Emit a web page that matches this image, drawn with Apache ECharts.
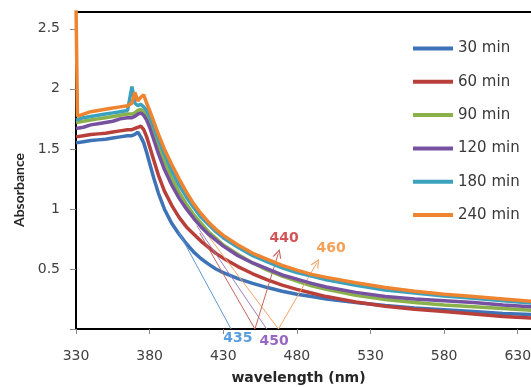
<!DOCTYPE html>
<html><head><meta charset="utf-8">
<script src="https://cdn.jsdelivr.net/npm/echarts@6/dist/echarts.min.js"></script>
<style>html,body{margin:0;padding:0;background:#fff}#c{width:531px;height:387px}</style>
</head><body><div id="c"></div>
<script>
// ---- data ----
const wavelengths = [330,331,335,340,345,350,355,360,365,368,370,372,374,376,378,380,383,386,390,395,400,405,410,415,420,425,430,440,450,460,470,480,490,500,520,540,560,580,600,620,640];
const abs30  = [1.55,1.55,1.56,1.57,1.575,1.58,1.59,1.60,1.61,1.61,1.62,1.64,1.60,1.55,1.47,1.38,1.25,1.13,1.00,0.88,0.79,0.71,0.64,0.585,0.54,0.50,0.47,0.42,0.38,0.345,0.315,0.29,0.27,0.25,0.22,0.195,0.175,0.16,0.145,0.13,0.12];
const abs60  = [1.60,1.60,1.61,1.62,1.625,1.63,1.64,1.65,1.66,1.66,1.67,1.68,1.69,1.66,1.60,1.52,1.40,1.28,1.15,1.03,0.93,0.85,0.79,0.73,0.68,0.63,0.59,0.52,0.46,0.41,0.365,0.33,0.30,0.27,0.225,0.19,0.165,0.145,0.125,0.105,0.09];
const abs90  = [1.72,1.72,1.73,1.74,1.75,1.76,1.77,1.78,1.79,1.79,1.80,1.82,1.83,1.81,1.78,1.73,1.63,1.53,1.40,1.26,1.14,1.04,0.95,0.88,0.81,0.755,0.70,0.62,0.55,0.49,0.44,0.40,0.36,0.33,0.28,0.245,0.22,0.20,0.185,0.17,0.155];
const abs120 = [1.67,1.67,1.68,1.70,1.71,1.72,1.73,1.75,1.76,1.76,1.77,1.79,1.80,1.78,1.74,1.68,1.57,1.46,1.33,1.20,1.09,1.00,0.92,0.85,0.79,0.74,0.69,0.61,0.55,0.50,0.45,0.415,0.38,0.35,0.305,0.27,0.25,0.235,0.22,0.20,0.185];
const abs180 = [1.74,1.74,1.76,1.77,1.78,1.79,1.80,1.81,1.82,2.02,1.88,1.86,1.87,1.85,1.82,1.77,1.68,1.58,1.46,1.32,1.20,1.10,1.01,0.93,0.87,0.81,0.76,0.68,0.61,0.56,0.51,0.47,0.44,0.41,0.365,0.325,0.30,0.275,0.255,0.235,0.215];
const abs240 = [2.70,1.77,1.79,1.81,1.82,1.83,1.84,1.85,1.86,1.88,1.97,1.90,1.93,1.95,1.88,1.82,1.72,1.62,1.50,1.37,1.25,1.14,1.04,0.96,0.89,0.83,0.78,0.70,0.63,0.58,0.53,0.49,0.455,0.43,0.385,0.345,0.315,0.29,0.27,0.25,0.23];
const seriesNames = ['30 min','60 min','90 min','120 min','180 min','240 min'];
const xTickValues = [330,380,430,480,530,580,630];
const yTickValues = [0,0.5,1,1.5,2,2.5];
// annotation lines in data units: [wavelength1, abs1, wavelength2, abs2]
const tangentLines = [[400,0.80,435.3,0],[414,0.80,451.5,0],[412,0.86,459.5,0],[414,0.87,467.5,0]];
const arrowLines = [[451.5,0,467.4,0.63],[467.5,0,493.5,0.55]];
const annotationTexts = ['435','440','450','460'];
const annotationPoints = [[440,-0.075],[471.3,0.758],[464.5,-0.10],[503.2,0.675]];

// ---- styles ----
const colors = ['#3E73B7','#B93F3B','#8BB14B','#7551A0','#3BA1BD','#EE842F'];
const tangentColors = ['#5F97D4','#C46461','#9B80C2','#F5A466'];
const arrowColors = ['#C46461','#F5A466'];
const labelColors = ['#2F86D6','#C42A2E','#7E40B4','#F08A2E'];
const FONT = 'DejaVu Sans';
const chevron = 'path://M0,10 L5,0 L10,10 L8.6,10 L5,2.8 L1.4,10 Z';

const allAbs = [abs30, abs60, abs90, abs120, abs180, abs240];
const series = allAbs.map((arr, i) => ({
  name: seriesNames[i], type: 'line', showSymbol: false, symbol: 'none',
  data: wavelengths.map((w, j) => [w, arr[j]]),
  lineStyle: { width: 3.5, color: colors[i] }, itemStyle: { color: colors[i] },
  z: 2 + i
}));
const mlData = [];
tangentLines.forEach((t, i) => mlData.push([
  { coord: [t[0], t[1]], symbol: 'none', lineStyle: { color: tangentColors[i], width: 1, type: 'solid' } },
  { coord: [t[2], t[3]], symbol: 'none' }
]));
arrowLines.forEach((t, i) => mlData.push([
  { coord: [t[0], t[1]], symbol: 'none', lineStyle: { color: arrowColors[i], width: 1, type: 'solid' } },
  { coord: [t[2], t[3]], symbol: chevron, symbolSize: [9, 9] }
]));
series.push({
  name: 'annot', type: 'scatter', clip: false, symbolSize: 0, z: 20, silent: true,
  data: annotationTexts.map((s, i) => ({ name: s, value: annotationPoints[i],
    label: { show: true, position: 'inside', formatter: '{b}', color: labelColors[i],
             fontFamily: FONT, fontWeight: 'bold', fontSize: 14 } })),
  markLine: { silent: true, animation: false, label: { show: false }, symbol: ['none','none'], data: mlData }
});

const chart = echarts.init(document.getElementById('c'));
chart.setOption({
  animation: false,
  grid: { left: 76, top: 12, right: 0, bottom: 58, outerBoundsMode: 'none', containLabel: false },
  legend: {
    data: seriesNames, orient: 'vertical', left: 408, top: 36,
    icon: 'rect', itemWidth: 40, itemHeight: 4, itemGap: 18.3,
    textStyle: { fontFamily: FONT, fontSize: 15, color: '#383838', lineHeight: 14 }
  },
  xAxis: [{
    type: 'value', min: 330, max: 639, interval: 50,
    axisLine: { lineStyle: { color: '#000', width: 2 } },
    axisTick: { length: 5, customValues: xTickValues, lineStyle: { color: '#888' } },
    axisLabel: { customValues: xTickValues, margin: 20, fontFamily: FONT, fontSize: 14, color: '#404040' },
    splitLine: { show: false },
    name: 'wavelength (nm)', nameLocation: 'middle', nameGap: 42,
    nameTextStyle: { fontFamily: FONT, fontWeight: 'bold', fontSize: 14, color: '#262626', padding: [0, 10, 0, 0] }
  }, {
    type: 'value', position: 'top', min: 330, max: 639,
    axisLine: { lineStyle: { color: '#000', width: 2 } },
    axisTick: { show: false }, axisLabel: { show: false }, splitLine: { show: false }
  }],
  yAxis: {
    type: 'value', min: 0, max: 2.64, interval: 0.5,
    axisLine: { show: true, lineStyle: { color: '#000', width: 2 } },
    axisTick: { show: true, length: 6, customValues: yTickValues, lineStyle: { color: '#888' } },
    axisLabel: { customValues: yTickValues.slice(1), margin: 16, fontFamily: FONT, fontSize: 14, color: '#404040' },
    splitLine: { show: false },
    name: 'Absorbance', nameLocation: 'middle', nameGap: 49, nameRotate: 90,
    nameTextStyle: { fontFamily: '"Liberation Sans Narrow", Lato', fontWeight: 'bold', fontSize: 14, color: '#262626', padding: [0, 39, 0, 0] }
  },
  series: series
});
</script></body></html>
